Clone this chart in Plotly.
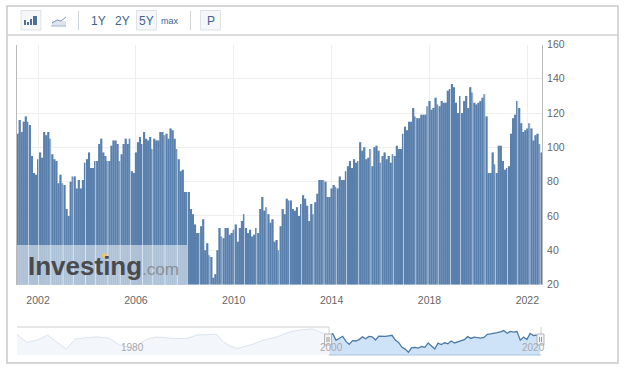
import plotly.graph_objects as go

W, H = 624, 369

# Monthly index values, first bar = March 2001
values_2001_2008 = [108,116,109,115,118,115,113,95,85,84,93,97,94,109,107,109,105,96,93,92,79,84,79,78,
    64,60,80,83,83,76,81,76,81,91,93,97,88,88,92,92,102,105,97,95,92,92,101,104,104,102,92,96,102,105,102,105,86,85,97,103,106,
    102,109,105,104,106,99,105,104,104,109,109,107,108,105,111,110,105,99,93,86,87,74,74,74]
values_2008_2011 = [64,61,55,50,50,54,58,40,44,37,36,24,26,40,53,48,47,53,53,49,50,52,55,45,53,57,61,53,50,52,48,49,53,50,64]
values_2011_2016 = [71,63,65,61,56,58,45,46,40,54,64,61,70,69,69,64,63,65,60,67,72,70,66,57,67,61,68,73,81,81,81,80,71,71,76,78,77,76,83,81,81,86,89,92,88,93,91,92,103,98,100,93,94,99,89,100,101,98,91,95,97,93,95]
values_2016_2019 = [91,96,95,101,99,99,108,112,110,115,115,123,118,117,117,119,119,119,124,127,122,123,129,125,124,127,126,126,133,134]
values_2019_2022 = [137,135,126,120,130,120,127,130,123,135,132,126,125,126,127,129,131,118,85,85,97,90,85,101,101,92,87,88,89,108,117,119,127,123,114,109,110,111,114,111,104,107,108,102,97]
values = values_2001_2008 + values_2008_2011 + values_2011_2016 + values_2016_2019 + values_2019_2022
years = [2001 + (2 + i) / 12 for i in range(len(values))]

x_ticks = [2002, 2006, 2010, 2014, 2018, 2022]
y_ticks = [20, 40, 60, 80, 100, 120, 140, 160]

# Navigator history before the selected window
hist_years = [1969.5,1970.5,1971.5,1972.6,1973.5,1974,1974.5,1975.4,1977.6,1978.9,1979.9,1981.3,1982.6,1983.6,1985.3,1986.7,1987.7,1989.7,1990.4,1991.1,1991.8,1993.1,1994.4,1995.8,1997.2,1998.2,1999.4,2001.2]
hist_values = [115,74,85,111,77,60,39,91,102,94,60,43,90,101,94,94,111,115,77,56,43,60,85,101,128,137,142,108]
nav_labels = {"1980": 1981.2, "2000": 2001.4, "2020": 2021.8}

BAR = "rgba(88,126,172,0.99)"
GAP = "rgba(190,208,228,0.99)"
TXT = "#666666"
BTN = "#41648c"

def px(v): return v / W
def py(v): return 1 - v / H

# The source shows a pale sliver between bars about every 5.6 bars: those bars are drawn narrower.
sliver = {int(5.4 + 5.59 * k) for k in range(50)}
month = 1 / 12
bar_widths = [0.55 * month if i in sliver else 1.02 * month for i in range(len(values))]
bar_offsets = [-0.5 * month] * len(values)

fig = go.Figure()
fig.add_bar(x=years, y=values, width=month, marker=dict(color=GAP, line=dict(width=0)), hoverinfo="skip", showlegend=False)
fig.add_bar(x=years, y=values, width=bar_widths, offset=bar_offsets, marker=dict(color=BAR, line=dict(width=0)), hoverinfo="skip", showlegend=False)
fig.add_scatter(x=hist_years, y=hist_values, xaxis="x2", yaxis="y2", mode="lines",
                line=dict(color="#dbe3ec", width=1), fill="tozeroy", fillcolor="#f3f7fb", hoverinfo="skip", showlegend=False)
fig.add_scatter(x=years[::4], y=values[::4], xaxis="x2", yaxis="y2", mode="lines",
                line=dict(color="#4a7aa8", width=1.3), fill="tozeroy", fillcolor="#cfe3f8", hoverinfo="skip", showlegend=False)

shapes = []
def rect(x0, y0, x1, y1, fill=None, line=None, lw=1, layer="above"):
    shapes.append(dict(type="rect", xref="paper", yref="paper", x0=px(x0), x1=px(x1), y0=py(y0), y1=py(y1),
                       fillcolor=fill or "rgba(0,0,0,0)", line=dict(color=line or "rgba(0,0,0,0)", width=lw if line else 0), layer=layer))
def seg(x0, y0, x1, y1, color, lw=1, layer="above"):
    shapes.append(dict(type="line", xref="paper", yref="paper", x0=px(x0), x1=px(x1), y0=py(y0), y1=py(y1),
                       line=dict(color=color, width=lw), layer=layer))

# frame and toolbar
rect(7, 6, 618, 363, None, "#c9c9c9", 1.5)
seg(7, 35, 618, 35, "#d0d0d0", 1.5)
seg(78.5, 11, 78.5, 30, "#cfd4d9", 1)
seg(190.5, 11, 190.5, 30, "#cfd4d9", 1)
for a, b in [(21, 41), (136.5, 156.5), (200.5, 220.5)]:
    rect(a, 10.5, b, 30, "#f4f6f8", "#dfe2e6", 1)
# column icon
for a, b, t in [(24, 26, 20), (27, 29, 22), (30, 32, 19), (33, 37, 16)]:
    rect(a, t, b, 25, "#4f6f96")
# line icon
rect(52, 21, 66, 26, "#dde4f0")
seg(51, 26, 66, 26, "#9fb3cc", 1)
seg(52, 23, 57, 20, "#7d95b5", 1)
seg(57, 20, 61, 21, "#7d95b5", 1)
seg(61, 21, 66, 17, "#7d95b5", 1)

# watermark
rect(17, 245, 187, 284.5, "rgba(255,255,255,0.5)")
shapes.append(dict(type="circle", xref="paper", yref="paper", x0=px(102), x1=px(107), y0=py(258), y1=py(253),
                   fillcolor="#e9c873", line=dict(width=0), layer="above"))

# navigator furniture
seg(17, 327, 329, 327, "#cfcfcf", 1)
seg(329, 327, 329, 335, "#cfcfcf", 1)
seg(329, 355, 541, 355, "#a9c0da", 1)
seg(541, 327, 541, 335, "#cfcfcf", 1)
for a in (328, 540.5):
    rect(a - 3.5, 334, a + 3.5, 345, "#f2f2f2", "#b5b5b5", 1)
    seg(a - 1, 337, a - 1, 342, "#999999", 1)
    seg(a + 1, 337, a + 1, 342, "#999999", 1)

ann = []
def label(x, y, text, size=12, color=BTN, xanchor="center", family="Liberation Sans"):
    ann.append(dict(xref="paper", yref="paper", x=px(x), y=py(y), text=text, showarrow=False, xanchor=xanchor, yanchor="middle",
                    font=dict(family=family, size=size, color=color)))
label(98, 20.5, "1Y")
label(122, 20.5, "2Y")
label(146.5, 20.5, "5Y")
label(170, 20.5, "max", 9)
label(210.5, 20.5, "P")
label(26, 266, "<b>Investing</b><span style='color:#8a8f96;font-size:17px'>.com</span>", 26, "#4a4a4c", "left")
for t, xv in nav_labels.items():
    ann.append(dict(xref="x2", yref="paper", x=xv, y=py(347.5), text=t, showarrow=False, yanchor="middle",
                    font=dict(family="Liberation Sans", size=10, color="#a8a8a8")))

fig.update_layout(
    template="none",
    width=W, height=H, margin=dict(l=0, r=0, t=0, b=0, autoexpand=False), autosize=False,
    paper_bgcolor="white", plot_bgcolor="white", barmode="overlay",
    shapes=shapes, annotations=ann,
    xaxis=dict(domain=[px(17), px(542)], range=[2001.14, 2022.6], tickmode="array", tickvals=x_ticks, automargin=False,
               ticktext=[str(v) for v in x_ticks], showgrid=True, gridcolor="#eeeeee", gridwidth=1, zeroline=False,
               ticks="", showline=False, tickfont=dict(family="Liberation Sans", size=10.5, color=TXT), anchor="y", ticklabelstandoff=8),
    yaxis=dict(domain=[py(284.5), py(44.5)], range=[20, 160], tickmode="array", tickvals=y_ticks, side="right", automargin=False,
               showgrid=True, gridcolor="#eeeeee", gridwidth=1, zeroline=False, showline=True, mirror=True, ticklabelstandoff=2,
               linecolor="#b9b9b9", linewidth=1, ticks="", tickfont=dict(family="Liberation Sans", size=10.5, color=TXT), anchor="x"),
    xaxis2=dict(domain=[px(17), px(541)], range=[1969.5, 2022.6], showgrid=False, zeroline=False, showticklabels=False, ticks="", anchor="y2", automargin=False),
    yaxis2=dict(domain=[py(355), py(327)], range=[10, 152], showgrid=False, zeroline=False, showticklabels=False, ticks="", anchor="x2", automargin=False),
)

fig.write_html("out.html", config={"displayModeBar": False},
               post_script="document.body.style.margin='0';document.body.style.overflow='hidden';")
